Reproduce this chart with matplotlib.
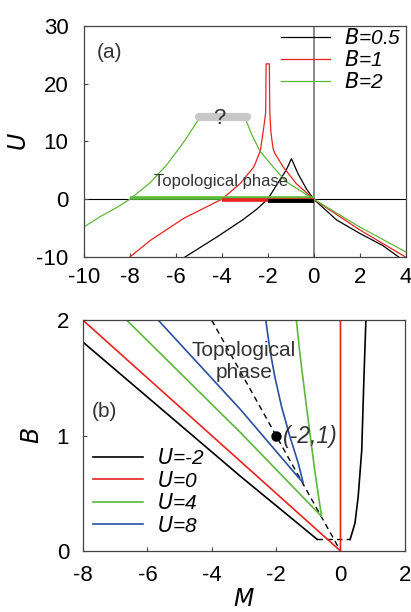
import matplotlib
matplotlib.use("Agg")
import matplotlib.pyplot as plt

plt.rcParams['font.family'] = ['Liberation Sans', 'DejaVu Sans']
plt.rcParams['axes.unicode_minus'] = False

RED = '#e8231f'
GREEN = '#5cb83a'
BLUE = '#2b4ea2'
TXT = '#333333'

# ---- panel (a): U vs M ----
m_b05 = [-5.6, -4.2, -3.1, -2.5, -2.0, -1.48, -1.2, -0.97, -0.68, -0.32, 0.0, 1.0, 2.0, 3.0, 3.7]
u_b05 = [-10, -6.5, -3.6, -1.8, 0.0, 3.3, 5.0, 7.0, 4.4, 1.8, 0.0, -3.6, -5.9, -8.0, -10]

m_b1 = [-8, -7.1, -5.65, -4.0, -3.2, -2.6, -2.32, -2.17, -2.09, -2.07,
        -1.93, -1.91, -1.86, -1.77, -1.70, -1.33, -0.76, 0.0, 2.0, 4.0]
u_b1 = [-10, -7.1, -3.3, 0.0, 2.7, 5.6, 8.4, 12.5, 15.0, 23.4,
        23.4, 15.0, 11.5, 8.8, 8.0, 5.6, 2.7, 0.0, -5.3, -10]

m_b2_left = [-10, -9.28, -8.55, -8.0, -7.1, -6.38, -5.65, -5.22, -5.0]
u_b2_left = [-4.8, -3.0, -1.4, 0.0, 2.9, 6.0, 9.9, 12.5, 13.9]
m_b2_right = [-2.95, -2.71, -2.35, -1.77, -1.19, 0.0, 2.0, 4.0]
u_b2_right = [13.7, 11.3, 8.4, 5.6, 3.0, 0.0, -4.8, -9.1]

# topological ranges (thick bars)
topo_green = ([-8, 0], [0.29, 0.29])
topo_red = ([-4, 0], [-0.09, -0.09])
topo_black = ([-2, 0], [-0.36, -0.36])
unknown_bar = ([-5.0, -2.9], [14.2, 14.2])

# ---- panel (b): B vs M ----
m_um2 = [-8, -3.12, -0.72]
b_um2 = [1.81, 0.65, 0.10]
m_um2_flat = [-0.72, 0.30]
b_um2_flat = [0.10, 0.10]
m_um2_right = [0.30, 0.45, 0.55, 0.66, 0.73, 0.79]
b_um2_right = [0.10, 0.24, 0.47, 0.87, 1.51, 2.0]

m_u0 = [-8, 0, 0]
b_u0 = [2.0, 0.0, 2.0]

m_u4 = [-6.64, -3.12, -0.59, -0.80, -0.95, -1.11, -1.26, -1.37]
b_u4 = [2.0, 1.03, 0.30, 0.70, 1.02, 1.37, 1.71, 2.0]

m_u8 = [-5.66, -3.12, -1.16, -1.31, -1.57, -1.83, -2.04, -2.19, -2.32]
b_u8 = [2.0, 1.23, 0.59, 0.76, 0.99, 1.25, 1.51, 1.74, 2.0]

m_dash = [-4, 0]
b_dash = [2, 0]
point = (-2, 1)

fig = plt.figure(figsize=(4.11, 6.12), dpi=100)
ax1 = fig.add_axes([0.204, 0.580, 0.783, 0.378])
ax2 = fig.add_axes([0.202, 0.0997, 0.783, 0.377])

for ax in (ax1, ax2):
    for s in ax.spines.values():
        s.set_color('#444444')
        s.set_linewidth(0.9)
    ax.tick_params(direction='in', length=3, width=0.8, color='#444444', labelsize=16)

# (a)
ax1.axhline(0, color='black', lw=0.8, zorder=1)
ax1.axvline(0, color='#808080', lw=1.3, zorder=1)
ax1.plot(m_b05, u_b05, color='black', lw=0.9, label='$B$=0.5')
ax1.plot(m_b1, u_b1, color=RED, lw=0.9, label='$B$=1')
ax1.plot(m_b2_left, u_b2_left, color=GREEN, lw=0.9, label='$B$=2')
ax1.plot(m_b2_right, u_b2_right, color=GREEN, lw=0.9)
ax1.plot(*topo_green, color=GREEN, lw=2.6, solid_capstyle='butt')
ax1.plot(*topo_red, color=RED, lw=2.6, solid_capstyle='butt')
ax1.plot(*topo_black, color='black', lw=2.8, solid_capstyle='butt')
ax1.plot(*unknown_bar, color='#c8c8c8', lw=6, solid_capstyle='round')
ax1.text(-4.1, 14.0, '?', fontsize=16, color=TXT, ha='center', va='center')
ax1.text(-4.05, 3.0, 'Topological phase', fontsize=12, color=TXT, ha='center', va='center')
ax1.text(-8.9, 25.4, '(a)', fontsize=15, color=TXT, ha='center', va='center')

ax1.set_xlim(-10, 4)
ax1.set_ylim(-10, 30)
ax1.set_xticks(range(-10, 5, 2))
ax1.set_yticks([-10, 0, 10, 20, 30])
ax1.tick_params(axis='x', pad=7)
ax1.tick_params(axis='y', pad=11)
ax1.set_ylabel('$U$', fontsize=17)
ax1.yaxis.set_label_coords(-0.165, 0.5)
leg1 = ax1.legend(loc='upper left', bbox_to_anchor=(0.614, 0.99), frameon=False,
                  fontsize=15, handlelength=2.35, handletextpad=0.64,
                  labelspacing=0.1, borderpad=0, borderaxespad=0)
for t in leg1.get_texts():
    t.set_fontstyle('italic')

# (b)
ax2.plot(m_dash, b_dash, color='black', lw=1.0, ls=(0, (4, 3)))
ax2.plot(m_um2, b_um2, color='black', lw=1.2, label='$U$=-2')
ax2.plot(m_um2_flat, b_um2_flat, color='black', lw=1.0, ls=(0, (4, 3)))
ax2.plot(m_um2_right, b_um2_right, color='black', lw=1.2)
ax2.plot(m_u0, b_u0, color=RED, lw=1.2, label='$U$=0')
ax2.plot(m_u4, b_u4, color=GREEN, lw=1.2, label='$U$=4')
ax2.plot(m_u8, b_u8, color=BLUE, lw=1.2, label='$U$=8')
ax2.plot(*point, 'o', color='black', ms=6.5)
ax2.text(-1.78, 0.99, '(-2,1)', fontsize=16.5, style='italic', color=TXT,
         ha='left', va='center')
ax2.text(-3.0, 1.645, 'Topological\nphase', fontsize=15, color=TXT,
         ha='center', va='center', linespacing=1.2)
ax2.text(-7.34, 1.21, '(b)', fontsize=15, color=TXT, ha='center', va='center')

ax2.set_xlim(-8, 2)
ax2.set_ylim(0, 2)
ax2.set_xticks(range(-8, 3, 2))
ax2.set_yticks([0, 1, 2])
ax2.tick_params(axis='x', pad=10)
ax2.tick_params(axis='y', pad=10)
ax2.set_ylabel('$B$', fontsize=17)
ax2.yaxis.set_label_coords(-0.121, 0.5)
ax2.set_xlabel('$M$', fontsize=17)
ax2.xaxis.set_label_coords(0.5, -0.165)
leg2 = ax2.legend(loc='upper left', bbox_to_anchor=(0.032, 0.446), frameon=False,
                  fontsize=15, handlelength=2.4, handletextpad=0.64,
                  labelspacing=0.12, borderpad=0, borderaxespad=0)
for t in leg2.get_texts():
    t.set_fontstyle('italic')

fig.savefig('out.png', dpi=100)
